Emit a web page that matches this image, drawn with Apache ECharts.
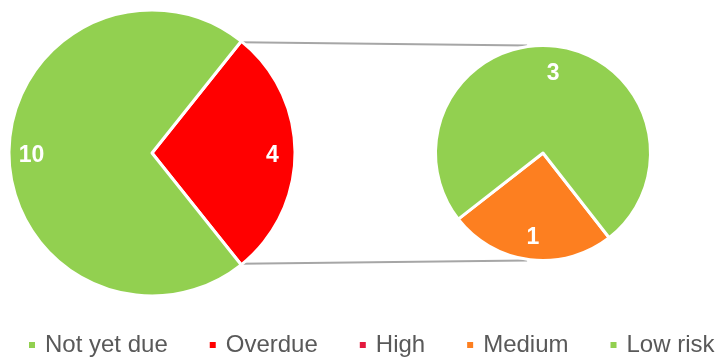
<!DOCTYPE html>
<html>
<head>
<meta charset="utf-8">
<script src="https://cdn.jsdelivr.net/npm/echarts@6/dist/echarts.min.js"></script>
<style>html,body{margin:0;padding:0;background:#fff}#c{width:718px;height:359px}</style>
</head>
<body>
<div id="c"></div>
<script>
// ---- data ----
const legendNames = ['Not yet due', 'Overdue', 'High', 'Medium', 'Low risk'];
const primaryNames = ['Overdue', 'Not yet due'];
const primaryValues = [4, 10];
const secondaryNames = ['High', 'Medium', 'Low risk'];
const secondaryValues = [0, 1, 3];
const colors = {
  'Not yet due': '#92D050',
  'Overdue': '#FF0000',
  'High': '#E31A3E',
  'Medium': '#FD7F20',
  'Low risk': '#92D050'
};

// ---- layout ----
const c1 = [152, 153], r1 = 141.5;   // visible radius
const c2 = [543, 153], r2 = 106;
const border = 3;
const font = "'Liberation Sans', Arial, sans-serif";

const total1 = primaryValues.reduce((a, b) => a + b, 0);
const start1 = 360 * primaryValues[0] / total1 / 2;
const start2 = 308;

function mk(names, values) {
  return names.map((n, i) => ({ name: n, value: values[i], itemStyle: { color: colors[n] } }));
}
function labelSeries(names, values, center, r, frac, start) {
  return {
    type: 'pie', silent: true, center: center, radius: [r * (2 * frac - 1), r],
    startAngle: start, clockwise: true, animation: false,
    data: names.map((n, i) => ({ name: n, value: values[i] })),
    itemStyle: { color: 'rgba(0,0,0,0)', borderWidth: 0 },
    label: {
      show: true, position: 'inside', color: '#fff', fontFamily: font,
      fontWeight: 'bold', fontSize: 23, offset: [0, 3],
      formatter: p => (p.value ? String(p.value) : '')
    },
    labelLine: { show: false }, emphasis: { disabled: true }, tooltip: { show: false }
  };
}

const a = start1 * Math.PI / 180;
const p1t = [c1[0] + r1 * Math.cos(a), c1[1] - r1 * Math.sin(a)];
const p1b = [c1[0] + r1 * Math.cos(a), c1[1] + r1 * Math.sin(a)];
const p2t = [c2[0] - 0.15 * r2, c2[1] - r2 - 1.5];
const p2b = [c2[0] - 0.15 * r2, c2[1] + r2 + 1.5];

const chart = echarts.init(document.getElementById('c'), null, { renderer: 'canvas' });
chart.setOption({
  animation: false,
  backgroundColor: '#fff',
  legend: {
    data: legendNames,
    left: 27, top: 333, width: 710, padding: 0,
    icon: 'rect', itemWidth: 8, itemHeight: 8, itemGap: 40,
    selectedMode: false,
    textStyle: { color: '#595959', fontSize: 24, fontFamily: font, padding: [0, 0, 0, 4] }
  },
  graphic: [
    { type: 'line', silent: true, shape: { x1: p1t[0], y1: p1t[1], x2: p2t[0], y2: p2t[1] },
      style: { stroke: '#A6A6A6', lineWidth: 2 } },
    { type: 'line', silent: true, shape: { x1: p1b[0], y1: p1b[1], x2: p2b[0], y2: p2b[1] },
      style: { stroke: '#A6A6A6', lineWidth: 2 } }
  ],
  series: [
    {
      type: 'pie', center: c1, radius: r1 + border / 2, startAngle: start1, clockwise: true,
      data: mk(primaryNames, primaryValues),
      itemStyle: { borderColor: '#fff', borderWidth: border },
      label: { show: false }, labelLine: { show: false }, emphasis: { disabled: true }
    },
    {
      type: 'pie', center: c2, radius: r2 + border / 2, startAngle: start2, clockwise: true,
      data: mk(secondaryNames, secondaryValues),
      itemStyle: { borderColor: '#fff', borderWidth: border },
      label: { show: false }, labelLine: { show: false }, emphasis: { disabled: true }
    },
    labelSeries(primaryNames, primaryValues, c1, r1, 0.83, start1),
    labelSeries(secondaryNames, secondaryValues, c2, r2, 0.75, start2)
  ]
});
</script>
</body>
</html>
